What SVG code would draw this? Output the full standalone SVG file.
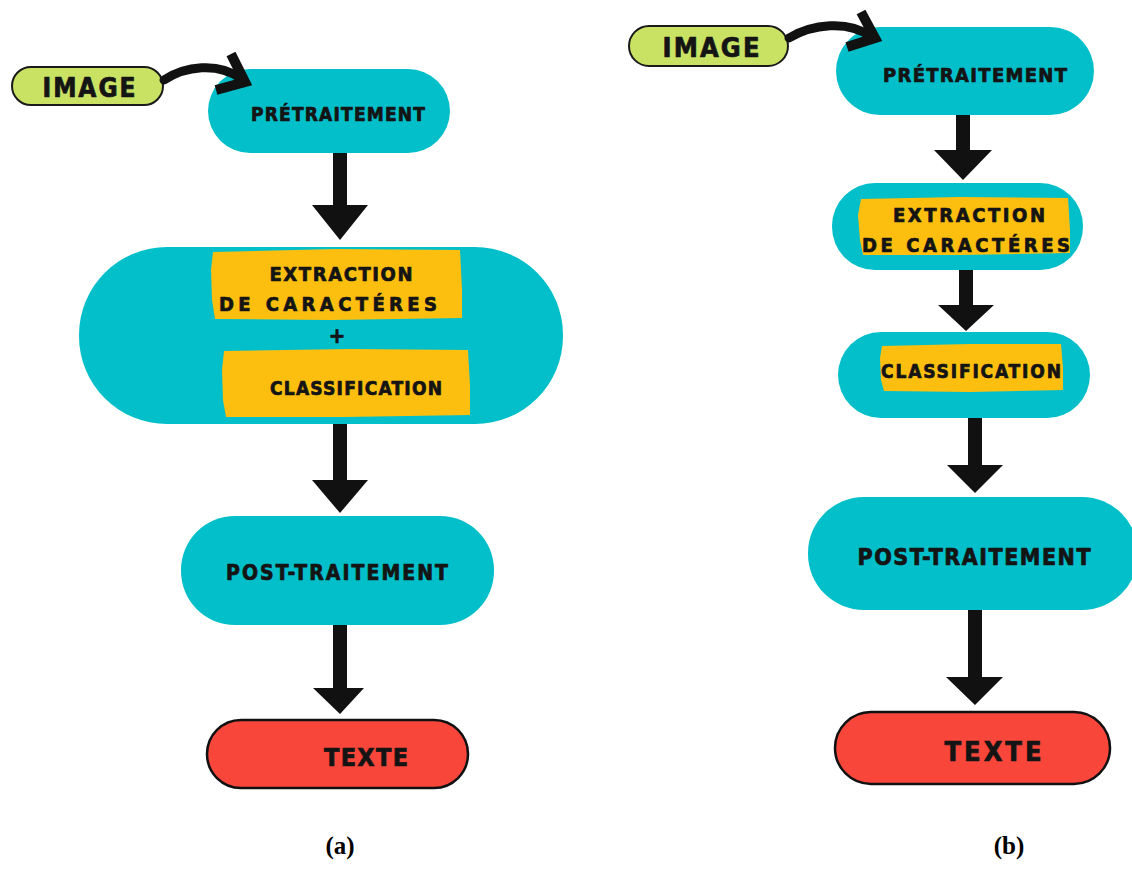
<svg xmlns="http://www.w3.org/2000/svg" width="1132" height="888" viewBox="0 0 1132 888">
  <style>
    .step { fill: #03bfca; }
    .hl { fill: #fdbf0f; }
    .input { fill: #c9e264; stroke: #1a1a1a; stroke-width: 2; }
    .output { fill: #f9463a; stroke: #111; stroke-width: 2.5; }
    .lbl { font-family: "DejaVu Sans", "Liberation Sans", sans-serif; font-weight: bold; font-stretch: condensed; fill: #141414; stroke: #141414; stroke-width: 0.7; stroke-linejoin: round; text-anchor: middle; }
    .cap { font-family: "Liberation Serif", serif; font-weight: bold; font-size: 25px; fill: #000; text-anchor: middle; }
    .curve { fill: none; stroke: #111; stroke-width: 9; stroke-linecap: round; stroke-linejoin: round; }
    .head { fill: none; stroke: #111; stroke-width: 10; stroke-linecap: butt; stroke-linejoin: miter; }
    .block { fill: #111; }
  </style>

  <rect width="1132" height="888" fill="#ffffff"/>

  <!-- ===== (a) ===== -->
  <g id="a-image">
    <rect class="input" x="12" y="67" width="151" height="38" rx="19"/>
    <text class="lbl" x="89" y="97" font-size="26" textLength="93" lengthAdjust="spacing">IMAGE</text>
  </g>
  <g id="a-pretraitement">
    <rect class="step" x="208" y="69" width="242" height="84" rx="42"/>
    <text class="lbl" x="338" y="121" font-size="19" textLength="174" lengthAdjust="spacing">PRÉTRAITEMENT</text>
  </g>
  <g id="a-extraction-classification">
    <rect class="step" x="79" y="247" width="484" height="177" rx="88"/>
    <path class="hl" d="M 213 252 L 336 249 L 460 250 L 462 290 L 462 318 L 330 320 L 215 319 L 212 300 L 211 270 Z"/>
    <text class="lbl" x="341" y="281" font-size="20" textLength="143" lengthAdjust="spacing">EXTRACTION</text>
    <text class="lbl" x="328" y="311" font-size="20" textLength="218" lengthAdjust="spacing">DE CARACTÉRES</text>
    <text class="lbl" x="337" y="343" font-size="22">+</text>
    <path class="hl" d="M 224 351 L 350 349 L 468 350 L 470 385 L 470 415 L 345 417 L 226 417 L 223 400 L 222 370 Z"/>
    <text class="lbl" x="356" y="395" font-size="19" textLength="172" lengthAdjust="spacing">CLASSIFICATION</text>
  </g>
  <g id="a-post-traitement">
    <rect class="step" x="181" y="516" width="313" height="109" rx="54"/>
    <text class="lbl" x="337" y="580" font-size="21" textLength="222" lengthAdjust="spacing">POST-TRAITEMENT</text>
  </g>
  <g id="a-texte">
    <rect class="output" x="207" y="720" width="261" height="68" rx="34"/>
    <text class="lbl" x="366" y="766" font-size="25" textLength="84" lengthAdjust="spacing">TEXTE</text>
  </g>
  <text class="cap" x="340" y="854">(a)</text>

  <!-- ===== (b) ===== -->
  <g id="b-image">
    <rect class="input" x="629" y="26" width="159" height="40" rx="20"/>
    <text class="lbl" x="711" y="57" font-size="27" textLength="97" lengthAdjust="spacing">IMAGE</text>
  </g>
  <g id="b-pretraitement">
    <rect class="step" x="836" y="27" width="258" height="88" rx="44"/>
    <text class="lbl" x="975" y="82" font-size="20" textLength="184" lengthAdjust="spacing">PRÉTRAITEMENT</text>
  </g>
  <g id="b-extraction">
    <rect class="step" x="832" y="183" width="251" height="87" rx="43"/>
    <path class="hl" d="M 861 199 L 960 197 L 1068 198 L 1070 230 L 1070 253 L 960 255 L 863 255 L 860 240 L 858 215 Z"/>
    <text class="lbl" x="969" y="222" font-size="20" textLength="152" lengthAdjust="spacing">EXTRACTION</text>
    <text class="lbl" x="966" y="252" font-size="20" textLength="208" lengthAdjust="spacing">DE CARACTÉRES</text>
  </g>
  <g id="b-classification">
    <rect class="step" x="838" y="332" width="252" height="86" rx="43"/>
    <path class="hl" d="M 882 346 L 970 344 L 1061 344 L 1063 368 L 1063 390 L 970 392 L 884 391 L 881 380 L 880 358 Z"/>
    <text class="lbl" x="971" y="378" font-size="19" textLength="180" lengthAdjust="spacing">CLASSIFICATION</text>
  </g>
  <g id="b-post-traitement">
    <rect class="step" x="808" y="497" width="330" height="113" rx="56"/>
    <text class="lbl" x="974" y="565" font-size="23" textLength="233" lengthAdjust="spacing">POST-TRAITEMENT</text>
  </g>
  <g id="b-texte">
    <rect class="output" x="835" y="712" width="275" height="72" rx="36"/>
    <text class="lbl" x="993" y="761" font-size="27" textLength="97" lengthAdjust="spacing">TEXTE</text>
  </g>
  <text class="cap" x="1009" y="854">(b)</text>

  <!-- connectors, drawn over the nodes -->
  <g id="connectors">
    <!-- (a) -->
    <path class="curve" d="M 164 80 C 185 66 218 62 240 78"/>
    <path class="head" d="M 231 54 L 245 82 L 216 90"/>
    <path class="block" d="M 333 153 H 347 V 205 H 368 L 340 240 L 312 205 H 333 Z"/>
    <path class="block" d="M 333 424 H 347 V 480 H 368 L 340 513 L 312 480 H 333 Z"/>
    <path class="block" d="M 333 625 H 347 V 688 H 364 L 340 714 L 313 688 H 333 Z"/>
    <!-- (b) -->
    <path class="curve" d="M 789 38 C 812 24 848 20 870 36"/>
    <path class="head" d="M 861 12 L 875 38 L 847 47"/>
    <path class="block" d="M 956 115 H 970 V 150 H 992 L 963 180 L 934 150 H 956 Z"/>
    <path class="block" d="M 959 270 H 973 V 305 H 994 L 966 331 L 938 305 H 959 Z"/>
    <path class="block" d="M 968 418 H 982 V 465 H 1003 L 975 493 L 947 465 H 968 Z"/>
    <path class="block" d="M 968 610 H 982 V 677 H 1003 L 975 705 L 946 677 H 968 Z"/>
  </g>
</svg>
